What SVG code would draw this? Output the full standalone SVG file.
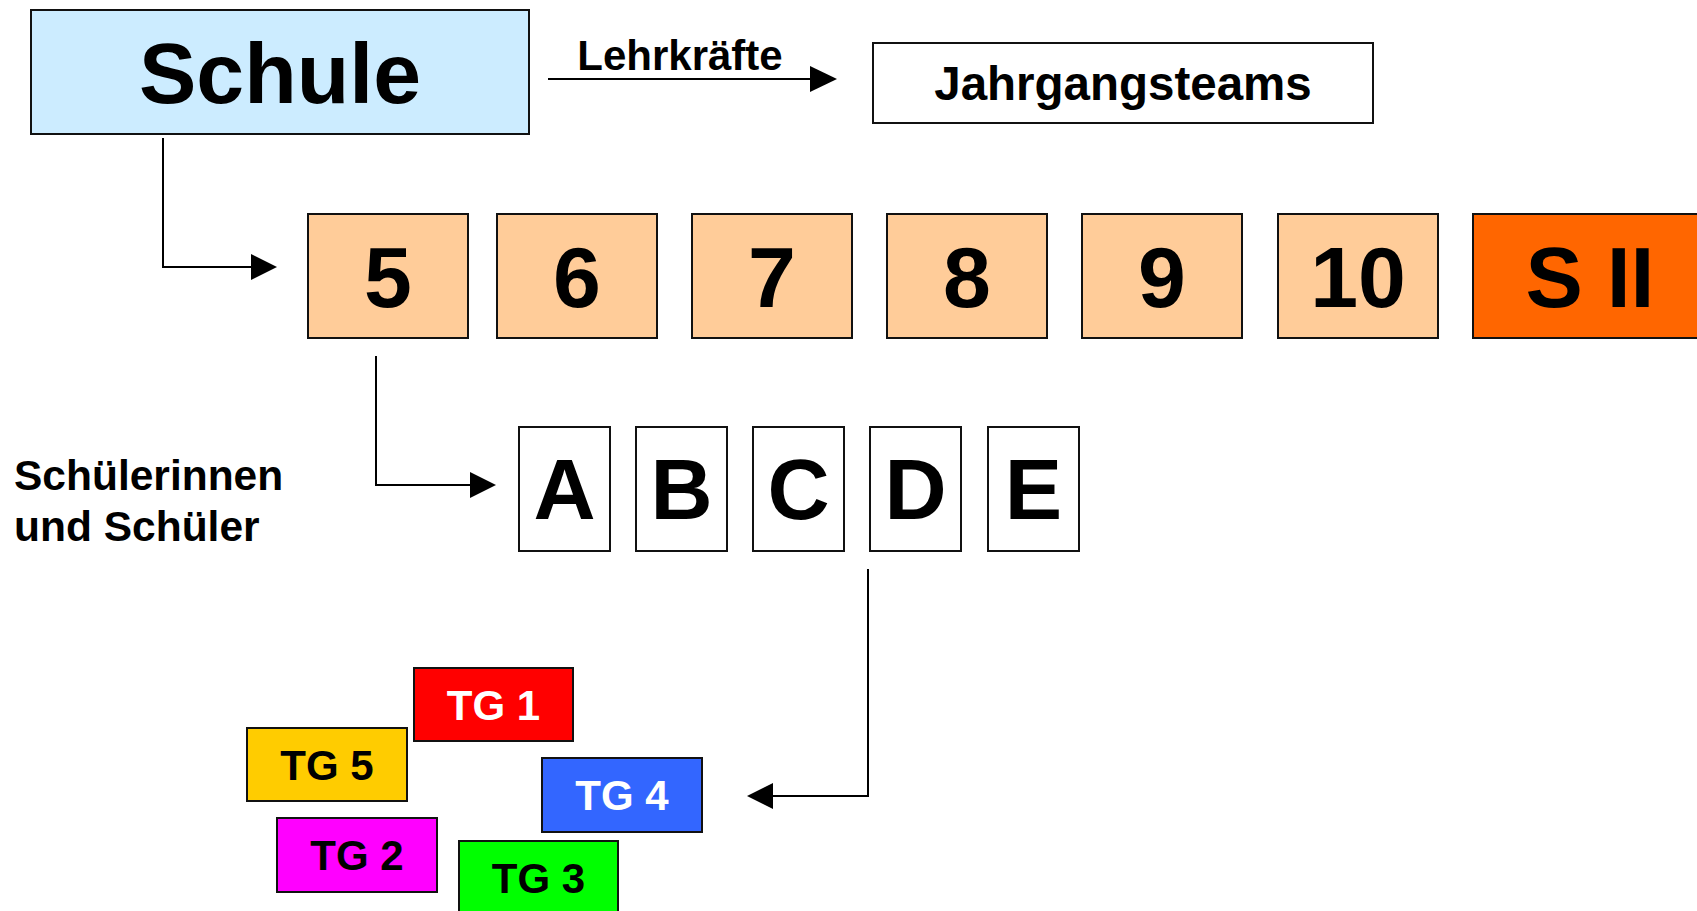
<svg xmlns="http://www.w3.org/2000/svg" width="1697" height="911" viewBox="0 0 1697 911">
<style>
text{font-family:"Liberation Sans",Arial,Helvetica,sans-serif;font-weight:bold;text-anchor:middle;fill:#000}
.box{stroke:#111;stroke-width:2}
.big{font-size:86px}
.tg{font-size:42px}
.w{fill:#fff}
.conn{fill:none;stroke:#000;stroke-width:2}
.head{fill:#000}
.grade{fill:#FFCC99}
.cls{fill:#fff}
</style>
<rect width="1697" height="911" fill="#fff"/>
<g id="schule"><rect class="box" x="31" y="10" width="498" height="124" fill="#CCECFF"/><text class="big" x="280" y="103">Schule</text></g>
<g id="jahrgangsteams"><rect class="box" x="873" y="43" width="500" height="80" fill="#fff"/><text x="1123" y="100" style="font-size:47.5px">Jahrgangsteams</text></g>
<g id="lehrkraefte-label"><text x="680" y="70" style="font-size:42px">Lehrkräfte</text></g>
<g id="schueler-label"><text x="14" y="490" style="font-size:42.5px;text-anchor:start">Schülerinnen</text><text x="14" y="541" style="font-size:42.5px;text-anchor:start">und Schüler</text></g>
<g id="g5"><rect class="box grade" x="308" y="214" width="160" height="124"/><text class="big" x="388" y="307">5</text></g>
<g id="g6"><rect class="box grade" x="497" y="214" width="160" height="124"/><text class="big" x="577" y="307">6</text></g>
<g id="g7"><rect class="box grade" x="692" y="214" width="160" height="124"/><text class="big" x="772" y="307">7</text></g>
<g id="g8"><rect class="box grade" x="887" y="214" width="160" height="124"/><text class="big" x="967" y="307">8</text></g>
<g id="g9"><rect class="box grade" x="1082" y="214" width="160" height="124"/><text class="big" x="1162" y="307">9</text></g>
<g id="g10"><rect class="box grade" x="1278" y="214" width="160" height="124"/><text class="big" x="1358" y="307">10</text></g>
<g id="sII"><rect class="box" x="1473" y="214" width="240" height="124" fill="#FF6600"/><text class="big" x="1590" y="307">S II</text></g>
<g id="cA"><rect class="box cls" x="519" y="427" width="91" height="124"/><text class="big" x="564.5" y="519">A</text></g>
<g id="cB"><rect class="box cls" x="636" y="427" width="91" height="124"/><text class="big" x="681.5" y="519">B</text></g>
<g id="cC"><rect class="box cls" x="753" y="427" width="91" height="124"/><text class="big" x="798.5" y="519">C</text></g>
<g id="cD"><rect class="box cls" x="870" y="427" width="91" height="124"/><text class="big" x="915.5" y="519">D</text></g>
<g id="cE"><rect class="box cls" x="988" y="427" width="91" height="124"/><text class="big" x="1033.5" y="519">E</text></g>
<g id="tg1"><rect class="box" x="414" y="668" width="159" height="73" fill="#FF0000"/><text class="tg w" x="493.5" y="719.5">TG 1</text></g>
<g id="tg5"><rect class="box" x="247" y="728" width="160" height="73" fill="#FFCC00"/><text class="tg" x="327" y="779.5">TG 5</text></g>
<g id="tg4"><rect class="box" x="542" y="758" width="160" height="74" fill="#3366FF"/><text class="tg w" x="622" y="809.5">TG 4</text></g>
<g id="tg2"><rect class="box" x="277" y="818" width="160" height="74" fill="#FF00FF"/><text class="tg" x="357" y="869.5">TG 2</text></g>
<g id="tg3"><rect class="box" x="459" y="841" width="159" height="80" fill="#00FF00"/><text class="tg" x="538.5" y="893">TG 3</text></g>
<g id="connectors">
<path class="conn" d="M548 79H811"/><polygon class="head" points="810,66 837,79 810,92"/>
<path class="conn" d="M163 138V267H252"/><polygon class="head" points="251,254 277,267 251,280"/>
<path class="conn" d="M376 356V485H471"/><polygon class="head" points="470,472 496,485 470,498"/>
<path class="conn" d="M868 569V796H772"/><polygon class="head" points="773,783 747,796 773,809"/>
</g>
</svg>
